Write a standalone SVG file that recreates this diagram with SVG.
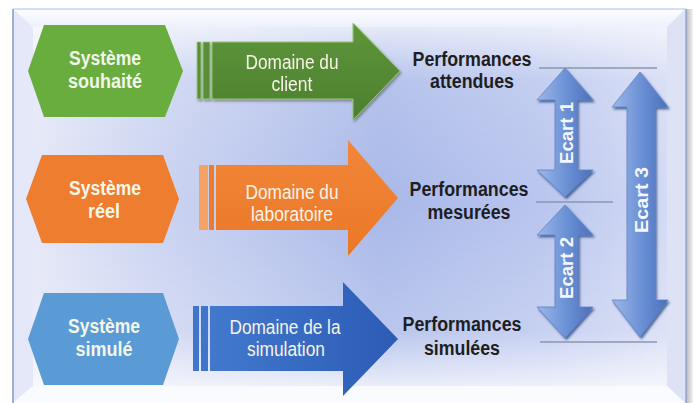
<svg xmlns="http://www.w3.org/2000/svg" width="693" height="403" viewBox="0 0 693 403">
  <defs>
    <style>
      .hex-t { font-family: "Liberation Sans", Arial, sans-serif; font-weight: bold; font-size: 20px; fill: #f3f7ea; text-anchor: middle; }
      .arr-t { font-family: "Liberation Sans", Arial, sans-serif; font-size: 20px; fill: #f8f3e8; text-anchor: middle; }
      .perf-t { font-family: "Liberation Sans", Arial, sans-serif; font-weight: bold; font-size: 20px; fill: #1e1e22; text-anchor: middle; }
      .ecart-t { font-family: "Liberation Sans", Arial, sans-serif; font-weight: bold; font-size: 19px; fill: #f4f7ff; text-anchor: middle; }
      .level { stroke: #8c96ae; stroke-width: 1.5; fill: none; }
      .ecart { fill: url(#ecartFill); stroke: #5f83c8; stroke-width: 0.8; filter: url(#ecartShadow); }
    </style>
    <linearGradient id="faceH" x1="0" y1="0" x2="1" y2="0">
      <stop offset="0" stop-color="#e4e7f7"/>
      <stop offset="0.2" stop-color="#cbd3f1"/>
      <stop offset="0.55" stop-color="#a8b8e8"/>
      <stop offset="0.8" stop-color="#b9c5ee"/>
      <stop offset="1" stop-color="#d3daf4"/>
    </linearGradient>
    <linearGradient id="faceV" x1="0" y1="0" x2="0" y2="1">
      <stop offset="0" stop-color="#ffffff" stop-opacity="0.7"/>
      <stop offset="0.15" stop-color="#ffffff" stop-opacity="0.15"/>
      <stop offset="0.5" stop-color="#ffffff" stop-opacity="0"/>
      <stop offset="0.85" stop-color="#ffffff" stop-opacity="0.2"/>
      <stop offset="1" stop-color="#ffffff" stop-opacity="0.75"/>
    </linearGradient>
    <linearGradient id="bevelTop" x1="0" y1="0" x2="0" y2="1">
      <stop offset="0" stop-color="#fdfdff"/>
      <stop offset="1" stop-color="#eef1fb"/>
    </linearGradient>
    <linearGradient id="sideShadow" x1="0" y1="0" x2="1" y2="0">
      <stop offset="0" stop-color="#b9b9bd"/>
      <stop offset="1" stop-color="#f2f2f2"/>
    </linearGradient>
    <linearGradient id="greenBody" x1="0" y1="0" x2="0" y2="1">
      <stop offset="0" stop-color="#5e963b"/>
      <stop offset="1" stop-color="#4c7f2f"/>
    </linearGradient>
    <linearGradient id="orangeBody" x1="0" y1="0" x2="0" y2="1">
      <stop offset="0" stop-color="#f3863a"/>
      <stop offset="1" stop-color="#ea7826"/>
    </linearGradient>
    <linearGradient id="blueBody" x1="0" y1="0" x2="1" y2="0">
      <stop offset="0" stop-color="#4279cd"/>
      <stop offset="1" stop-color="#2c5bb6"/>
    </linearGradient>
    <linearGradient id="ecartFill" x1="0" y1="0" x2="1" y2="0">
      <stop offset="0" stop-color="#9db8e9"/>
      <stop offset="0.5" stop-color="#6d92d6"/>
      <stop offset="1" stop-color="#4a70bc"/>
    </linearGradient>
    <filter id="ecartShadow" x="-20%" y="-10%" width="150%" height="130%">
      <feDropShadow dx="1.5" dy="2" stdDeviation="1" flood-color="#243f7a" flood-opacity="0.75"/>
    </filter>
    <filter id="arrowShadow" x="-10%" y="-10%" width="130%" height="130%">
      <feDropShadow dx="1.5" dy="2" stdDeviation="1" flood-color="#33402a" flood-opacity="0.45"/>
    </filter>
  </defs>

  <!-- bevelled panel -->
  <g id="panel">
    <rect x="0" y="0" width="693" height="403" fill="#ffffff"/>
    <rect x="686" y="9" width="7" height="394" fill="url(#sideShadow)"/>
    <rect x="33" y="27" width="634" height="359" fill="url(#faceH)"/>
    <rect x="33" y="27" width="634" height="359" fill="url(#faceV)"/>
    <polygon points="13,9 685,9 667,27 33,27" fill="url(#bevelTop)"/>
    <polygon points="13,9 33,27 33,386 13,403" fill="#e5e8f8"/>
    <polygon points="685,9 685,403 667,386 667,27" fill="#dde2f5"/>
    <polygon points="13,403 33,386 667,386 685,403" fill="#fafbfe"/>
    <line x1="13" y1="9" x2="686" y2="9" stroke="#a8c0e6" stroke-width="1.2"/>
    <line x1="13" y1="9" x2="13" y2="403" stroke="#7e92c8" stroke-width="1.4"/>
    <line x1="686" y1="9" x2="686" y2="403" stroke="#8a9ccc" stroke-width="1.4"/>
  </g>

  <!-- level lines between the performances -->
  <g id="connectors">
    <line class="level" x1="539" y1="68" x2="657" y2="68"/>
    <line class="level" x1="536" y1="202" x2="613" y2="202"/>
    <line class="level" x1="540" y1="342" x2="657" y2="342"/>
  </g>

  <!-- systems -->
  <g id="systeme-souhaite">
    <path d="M28,71 L44,25 L165,25 L183,71 L165,117 L44,117 Z" fill="#6aad3f"/>
    <text class="hex-t" x="105" y="65" textLength="72" lengthAdjust="spacingAndGlyphs">Système</text>
    <text class="hex-t" x="105" y="88" textLength="74" lengthAdjust="spacingAndGlyphs">souhaité</text>
  </g>
  <g id="systeme-reel">
    <path d="M26,199 L42,155 L163,155 L179,199 L163,243 L42,243 Z" fill="#ee7d30"/>
    <text class="hex-t" x="105" y="195" textLength="72" lengthAdjust="spacingAndGlyphs">Système</text>
    <text class="hex-t" x="104" y="218" textLength="32" lengthAdjust="spacingAndGlyphs">réel</text>
  </g>
  <g id="systeme-simule">
    <path d="M28,339 L44,293 L163,293 L179,339 L163,385 L44,385 Z" fill="#5a9bd6"/>
    <text class="hex-t" x="104" y="333" textLength="72" lengthAdjust="spacingAndGlyphs">Système</text>
    <text class="hex-t" x="104" y="356" textLength="57" lengthAdjust="spacingAndGlyphs">simulé</text>
  </g>

  <!-- domains -->
  <g id="domaine-client" filter="url(#arrowShadow)">
    <rect x="197" y="42" width="4" height="57" fill="#5a8f38" stroke="#9fcd7f" stroke-width="0.8"/>
    <rect x="203" y="42" width="7" height="57" fill="#5a8f38" stroke="#9fcd7f" stroke-width="0.8"/>
    <path d="M212,42 L353,42 L353,23 L400,71 L353,120 L353,99 L212,99 Z" fill="url(#greenBody)" stroke="#95c474" stroke-width="1"/>
    <text class="arr-t" x="292" y="69" textLength="93" lengthAdjust="spacingAndGlyphs">Domaine du</text>
    <text class="arr-t" x="292" y="91" textLength="41" lengthAdjust="spacingAndGlyphs">client</text>
  </g>
  <g id="domaine-laboratoire">
    <rect x="199" y="165" width="9" height="65" fill="#f4a266"/>
    <rect x="209" y="165" width="5" height="65" fill="#ec7c2c"/>
    <path d="M216,165 L348,165 L348,140 L398,198 L348,256 L348,230 L216,230 Z" fill="url(#orangeBody)"/>
    <text class="arr-t" x="292" y="199" textLength="93" lengthAdjust="spacingAndGlyphs">Domaine du</text>
    <text class="arr-t" x="292" y="221" textLength="82" lengthAdjust="spacingAndGlyphs">laboratoire</text>
  </g>
  <g id="domaine-simulation">
    <rect x="193" y="306" width="6" height="65" fill="#3f75ca"/>
    <rect x="201" y="306" width="7" height="65" fill="#3f75ca"/>
    <path d="M210,306 L343,306 L343,282 L398,339 L343,396 L343,371 L210,371 Z" fill="url(#blueBody)"/>
    <text class="arr-t" x="285" y="334" textLength="111" lengthAdjust="spacingAndGlyphs">Domaine de la</text>
    <text class="arr-t" x="286" y="356" textLength="78" lengthAdjust="spacingAndGlyphs">simulation</text>
  </g>

  <!-- performances -->
  <g id="performances-attendues">
    <text class="perf-t" x="472" y="66" textLength="119" lengthAdjust="spacingAndGlyphs">Performances</text>
    <text class="perf-t" x="472" y="88" textLength="84" lengthAdjust="spacingAndGlyphs">attendues</text>
  </g>
  <g id="performances-mesurees">
    <text class="perf-t" x="469" y="196" textLength="119" lengthAdjust="spacingAndGlyphs">Performances</text>
    <text class="perf-t" x="469" y="219" textLength="83" lengthAdjust="spacingAndGlyphs">mesurées</text>
  </g>
  <g id="performances-simulees">
    <text class="perf-t" x="462" y="331" textLength="119" lengthAdjust="spacingAndGlyphs">Performances</text>
    <text class="perf-t" x="462" y="355" textLength="76" lengthAdjust="spacingAndGlyphs">simulées</text>
  </g>

  <!-- gaps -->
  <g id="ecart-1">
    <path class="ecart" d="M565,68 L593,100 L577,100 L577,170 L593,170 L565,197 L537,170 L555,170 L555,100 L537,100 Z"/>
    <text class="ecart-t" transform="translate(566,133) rotate(-90)" x="0" y="6.5" textLength="62" lengthAdjust="spacingAndGlyphs">Ecart 1</text>
  </g>
  <g id="ecart-2">
    <path class="ecart" d="M565,205 L593,235 L578,235 L578,307 L593,307 L565,338 L537,307 L555,307 L555,235 L537,235 Z"/>
    <text class="ecart-t" transform="translate(566,268) rotate(-90)" x="0" y="6.5" textLength="62" lengthAdjust="spacingAndGlyphs">Ecart 2</text>
  </g>
  <g id="ecart-3">
    <path class="ecart" d="M640,72 L668,107 L655,107 L655,300 L668,300 L640,337 L612,300 L627,300 L627,107 L612,107 Z"/>
    <text class="ecart-t" transform="translate(641,200) rotate(-90)" x="0" y="6.5" textLength="66" lengthAdjust="spacingAndGlyphs">Ecart 3</text>
  </g>
</svg>
